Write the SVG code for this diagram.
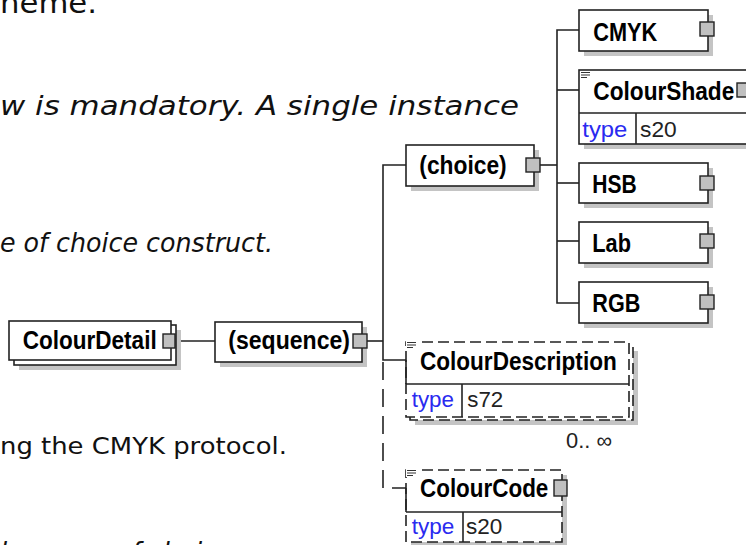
<svg xmlns="http://www.w3.org/2000/svg" width="746" height="545" viewBox="0 0 746 545">
<defs>
<style>
.pg{font-family:"DejaVu Sans","Verdana",sans-serif;fill:#111;}
.it{font-style:italic;}
.lbl{font-family:"Liberation Sans",Arial,sans-serif;font-weight:bold;font-size:25px;fill:#000;}
.typ{font-family:"Liberation Sans",Arial,sans-serif;font-size:22px;fill:#2a2af0;}
.val{font-family:"Liberation Sans",Arial,sans-serif;font-size:22px;fill:#222;}
.box{fill:#fff;stroke:#222;stroke-width:1.6;}
.dbox{fill:#fff;stroke:#222;stroke-width:1.6;stroke-dasharray:11 5;}
.sh{fill:#c4c4c4;stroke:none;}
.port{fill:#c0c0c0;stroke:#222;stroke-width:1.4;}
.ln{fill:none;stroke:#222;stroke-width:1.6;}
.dln{fill:none;stroke:#222;stroke-width:1.6;stroke-dasharray:18 9;}
.ic{stroke:#333;stroke-width:1.2;fill:none;}
</style>
</defs>
<rect width="746" height="545" fill="#fff"/>

<g id="page-text">
<text class="pg" x="0" y="12.5" font-size="29" textLength="97" lengthAdjust="spacingAndGlyphs">heme.</text>
<text class="pg it" x="0" y="114.5" font-size="27" textLength="519" lengthAdjust="spacingAndGlyphs">w is mandatory. A single instance</text>
<text class="pg it" x="0" y="251.5" font-size="27" textLength="273" lengthAdjust="spacingAndGlyphs">e of choice construct.</text>
<text class="pg" x="0" y="453.5" font-size="22.5" textLength="287" lengthAdjust="spacingAndGlyphs">ng the CMYK protocol.</text>
<text class="pg it" x="0" y="561" font-size="27" textLength="232" lengthAdjust="spacingAndGlyphs">because of choice</text>
</g>

<g id="connectors">
<line class="ln" x1="176" y1="341" x2="215" y2="341"/>
<line class="ln" x1="367" y1="341" x2="383" y2="341"/>
<polyline class="ln" points="406,165 383,165 383,360 406,360"/>
<polyline class="dln" points="383,362 383,488 406,488"/>
<line class="ln" x1="540" y1="165" x2="557" y2="165"/>
<polyline class="ln" points="579,30 557,30 557,303 579,303"/>
<line class="ln" x1="557" y1="90" x2="579" y2="90"/>
<line class="ln" x1="557" y1="183" x2="579" y2="183"/>
<line class="ln" x1="557" y1="241" x2="579" y2="241"/>
</g>

<g id="ColourDetail">
<rect class="sh" x="19" y="330" width="162" height="40"/>
<rect class="box" x="14" y="325" width="162" height="40"/>
<rect class="box" x="9" y="321" width="162" height="39"/>
<rect class="port" x="163" y="334" width="12" height="14"/>
<text class="lbl" x="22.7" y="348.5" textLength="134" lengthAdjust="spacingAndGlyphs">ColourDetail</text>
</g>

<g id="sequence">
<rect class="sh" x="220" y="327" width="147" height="40"/>
<rect class="box" x="215" y="322" width="147" height="40"/>
<rect class="port" x="353" y="334" width="14" height="14"/>
<text class="lbl" x="228.3" y="348.5" textLength="121.7" lengthAdjust="spacingAndGlyphs">(sequence)</text>
</g>

<g id="choice">
<rect class="sh" x="411" y="150" width="128" height="41"/>
<rect class="box" x="406" y="145" width="128" height="41"/>
<rect class="port" x="526" y="158" width="14" height="14"/>
<text class="lbl" x="419.3" y="174.3" textLength="87.4" lengthAdjust="spacingAndGlyphs">(choice)</text>
</g>

<g id="CMYK">
<rect class="sh" x="584" y="15" width="129" height="41"/>
<rect class="box" x="579" y="10" width="129" height="41"/>
<rect class="port" x="700" y="22" width="14" height="14"/>
<text class="lbl" x="593.3" y="41" textLength="64" lengthAdjust="spacingAndGlyphs">CMYK</text>
</g>

<g id="ColourShade">
<rect class="sh" x="584" y="75" width="180" height="74"/>
<rect class="box" x="579" y="70" width="180" height="74"/>
<line class="ln" x1="579" y1="113" x2="759" y2="113"/>
<line class="ln" x1="636" y1="113" x2="636" y2="144"/>
<rect x="580" y="71" width="11" height="8" fill="#fff"/>
<path class="ic" d="M581,72.5h9M581,75h9M581,77.5h6"/>
<rect class="port" x="737" y="83" width="14" height="14"/>
<text class="lbl" x="593.3" y="100" textLength="141" lengthAdjust="spacingAndGlyphs">ColourShade</text>
<text class="typ" x="582.3" y="136.7" textLength="45" lengthAdjust="spacingAndGlyphs">type</text>
<text class="val" x="640" y="136.7" textLength="36.7" lengthAdjust="spacingAndGlyphs">s20</text>
</g>

<g id="HSB">
<rect class="sh" x="584" y="168" width="129" height="40"/>
<rect class="box" x="579" y="163" width="129" height="40"/>
<rect class="port" x="700" y="176" width="14" height="14"/>
<text class="lbl" x="592.3" y="192.7" textLength="44.4" lengthAdjust="spacingAndGlyphs">HSB</text>
</g>

<g id="Lab">
<rect class="sh" x="584" y="227" width="129" height="41"/>
<rect class="box" x="579" y="222" width="129" height="41"/>
<rect class="port" x="700" y="234" width="14" height="14"/>
<text class="lbl" x="592.3" y="251.7" textLength="38.7" lengthAdjust="spacingAndGlyphs">Lab</text>
</g>

<g id="RGB">
<rect class="sh" x="584" y="287" width="129" height="41"/>
<rect class="box" x="579" y="282" width="129" height="41"/>
<rect class="port" x="700" y="295" width="14" height="14"/>
<text class="lbl" x="592.3" y="311.5" textLength="48" lengthAdjust="spacingAndGlyphs">RGB</text>
</g>

<g id="ColourDescription">
<rect class="sh" x="415" y="351" width="223" height="74"/>
<rect class="dbox" x="410" y="346" width="223" height="74"/>
<rect class="dbox" x="406" y="342" width="223" height="75"/>
<line class="ln" x1="406" y1="384" x2="629" y2="384"/>
<line class="ln" x1="462" y1="384" x2="462" y2="417"/>
<line class="ln" x1="406" y1="360" x2="406" y2="384"/>
<rect x="406" y="341" width="11" height="8" fill="#fff"/>
<path class="ic" d="M407,342.5h9M407,345h9M407,347.5h6"/>
<text class="lbl" x="420" y="370" textLength="196.7" lengthAdjust="spacingAndGlyphs">ColourDescription</text>
<text class="typ" x="411.7" y="407.3" textLength="42.3" lengthAdjust="spacingAndGlyphs">type</text>
<text class="val" x="467.3" y="407.3" textLength="36" lengthAdjust="spacingAndGlyphs">s72</text>
<text class="val" x="566" y="448" font-size="20" textLength="46" lengthAdjust="spacingAndGlyphs" fill="#333">0.. ∞</text>
</g>

<g id="ColourCode">
<rect class="sh" x="411" y="475" width="156" height="72"/>
<rect class="dbox" x="406" y="470" width="156" height="72"/>
<line class="ln" x1="406" y1="512" x2="562" y2="512"/>
<line class="ln" x1="463" y1="512" x2="463" y2="542"/>
<line class="ln" x1="406" y1="488" x2="406" y2="512"/>
<rect x="406" y="469" width="11" height="8" fill="#fff"/>
<path class="ic" d="M407,470.5h9M407,473h9M407,475.5h6"/>
<rect class="port" x="554" y="480" width="13" height="16"/>
<text class="lbl" x="420" y="496.7" textLength="128.3" lengthAdjust="spacingAndGlyphs">ColourCode</text>
<text class="typ" x="411.7" y="534" textLength="42.6" lengthAdjust="spacingAndGlyphs">type</text>
<text class="val" x="466" y="534" textLength="36.3" lengthAdjust="spacingAndGlyphs">s20</text>
</g>
</svg>
